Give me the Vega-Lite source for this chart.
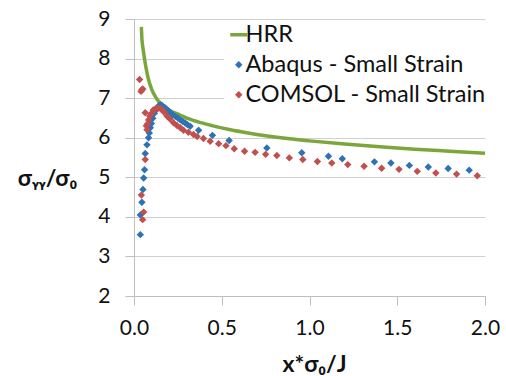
{
  "$schema": "https://vega.github.io/schema/vega-lite/v6.json",
  "width": 351,
  "height": 277,
  "autosize": {"type": "none"},
  "padding": {"left": 134, "top": 19, "right": 21, "bottom": 80},
  "background": "white",
  "config": {
    "view": {"stroke": null},
    "font": "Lato",
    "axis": {
      "labelFont": "Lato",
      "titleFont": "Lato",
      "labelColor": "#111111",
      "titleColor": "#111111",
      "domainColor": "#BFBFBF",
      "tickColor": "#BFBFBF",
      "gridColor": "#D0D0D0",
      "domainWidth": 1,
      "tickWidth": 1,
      "gridWidth": 1
    }
  },
  "datasets": {
    "pts": [
      {"series": "HRR", "x": 0.042, "y": 8.8},
      {"series": "HRR", "x": 0.045, "y": 8.5},
      {"series": "HRR", "x": 0.05, "y": 8.3},
      {"series": "HRR", "x": 0.055, "y": 8.14},
      {"series": "HRR", "x": 0.064, "y": 7.88},
      {"series": "HRR", "x": 0.074, "y": 7.64},
      {"series": "HRR", "x": 0.087, "y": 7.4},
      {"series": "HRR", "x": 0.102, "y": 7.21},
      {"series": "HRR", "x": 0.12, "y": 7.05},
      {"series": "HRR", "x": 0.14, "y": 6.92},
      {"series": "HRR", "x": 0.17, "y": 6.8},
      {"series": "HRR", "x": 0.207, "y": 6.68},
      {"series": "HRR", "x": 0.26, "y": 6.58},
      {"series": "HRR", "x": 0.31, "y": 6.48},
      {"series": "HRR", "x": 0.38, "y": 6.38},
      {"series": "HRR", "x": 0.45, "y": 6.3},
      {"series": "HRR", "x": 0.55, "y": 6.2},
      {"series": "HRR", "x": 0.65, "y": 6.12},
      {"series": "HRR", "x": 0.75, "y": 6.05},
      {"series": "HRR", "x": 0.85, "y": 5.99},
      {"series": "HRR", "x": 1.0, "y": 5.92},
      {"series": "HRR", "x": 1.2, "y": 5.84},
      {"series": "HRR", "x": 1.4, "y": 5.77},
      {"series": "HRR", "x": 1.6, "y": 5.71},
      {"series": "HRR", "x": 1.8, "y": 5.66},
      {"series": "HRR", "x": 2.0, "y": 5.61},

      {"series": "Abaqus - Small Strain", "x": 0.036, "y": 3.55},
      {"series": "Abaqus - Small Strain", "x": 0.036, "y": 4.05},
      {"series": "Abaqus - Small Strain", "x": 0.045, "y": 4.37},
      {"series": "Abaqus - Small Strain", "x": 0.051, "y": 4.69},
      {"series": "Abaqus - Small Strain", "x": 0.055, "y": 4.98},
      {"series": "Abaqus - Small Strain", "x": 0.06, "y": 5.19},
      {"series": "Abaqus - Small Strain", "x": 0.064, "y": 5.6},
      {"series": "Abaqus - Small Strain", "x": 0.074, "y": 5.82},
      {"series": "Abaqus - Small Strain", "x": 0.083, "y": 6.0},
      {"series": "Abaqus - Small Strain", "x": 0.087, "y": 6.12},
      {"series": "Abaqus - Small Strain", "x": 0.093, "y": 6.25},
      {"series": "Abaqus - Small Strain", "x": 0.099, "y": 6.36},
      {"series": "Abaqus - Small Strain", "x": 0.107, "y": 6.49},
      {"series": "Abaqus - Small Strain", "x": 0.116, "y": 6.62},
      {"series": "Abaqus - Small Strain", "x": 0.131, "y": 6.73},
      {"series": "Abaqus - Small Strain", "x": 0.14, "y": 6.8},
      {"series": "Abaqus - Small Strain", "x": 0.15, "y": 6.83},
      {"series": "Abaqus - Small Strain", "x": 0.158, "y": 6.82},
      {"series": "Abaqus - Small Strain", "x": 0.168, "y": 6.78},
      {"series": "Abaqus - Small Strain", "x": 0.178, "y": 6.75},
      {"series": "Abaqus - Small Strain", "x": 0.188, "y": 6.71},
      {"series": "Abaqus - Small Strain", "x": 0.197, "y": 6.67},
      {"series": "Abaqus - Small Strain", "x": 0.207, "y": 6.63},
      {"series": "Abaqus - Small Strain", "x": 0.22, "y": 6.58},
      {"series": "Abaqus - Small Strain", "x": 0.235, "y": 6.54},
      {"series": "Abaqus - Small Strain", "x": 0.25, "y": 6.5},
      {"series": "Abaqus - Small Strain", "x": 0.264, "y": 6.45},
      {"series": "Abaqus - Small Strain", "x": 0.278, "y": 6.41},
      {"series": "Abaqus - Small Strain", "x": 0.292, "y": 6.37},
      {"series": "Abaqus - Small Strain", "x": 0.305, "y": 6.33},
      {"series": "Abaqus - Small Strain", "x": 0.32, "y": 6.29},
      {"series": "Abaqus - Small Strain", "x": 0.368, "y": 6.19},
      {"series": "Abaqus - Small Strain", "x": 0.447, "y": 6.06},
      {"series": "Abaqus - Small Strain", "x": 0.542, "y": 5.93},
      {"series": "Abaqus - Small Strain", "x": 0.757, "y": 5.74},
      {"series": "Abaqus - Small Strain", "x": 0.956, "y": 5.62},
      {"series": "Abaqus - Small Strain", "x": 1.108, "y": 5.53},
      {"series": "Abaqus - Small Strain", "x": 1.187, "y": 5.47},
      {"series": "Abaqus - Small Strain", "x": 1.37, "y": 5.39},
      {"series": "Abaqus - Small Strain", "x": 1.464, "y": 5.36},
      {"series": "Abaqus - Small Strain", "x": 1.569, "y": 5.3},
      {"series": "Abaqus - Small Strain", "x": 1.677, "y": 5.26},
      {"series": "Abaqus - Small Strain", "x": 1.79, "y": 5.22},
      {"series": "Abaqus - Small Strain", "x": 1.91, "y": 5.18},

      {"series": "COMSOL - Small Strain", "x": 0.032, "y": 7.47},
      {"series": "COMSOL - Small Strain", "x": 0.04, "y": 7.17},
      {"series": "COMSOL - Small Strain", "x": 0.045, "y": 7.21},
      {"series": "COMSOL - Small Strain", "x": 0.05, "y": 7.23},
      {"series": "COMSOL - Small Strain", "x": 0.042, "y": 4.55},
      {"series": "COMSOL - Small Strain", "x": 0.049, "y": 3.93},
      {"series": "COMSOL - Small Strain", "x": 0.055, "y": 4.12},
      {"series": "COMSOL - Small Strain", "x": 0.064, "y": 5.45},
      {"series": "COMSOL - Small Strain", "x": 0.064, "y": 6.63},
      {"series": "COMSOL - Small Strain", "x": 0.07, "y": 6.3},
      {"series": "COMSOL - Small Strain", "x": 0.074, "y": 6.2},
      {"series": "COMSOL - Small Strain", "x": 0.078, "y": 6.35},
      {"series": "COMSOL - Small Strain", "x": 0.083, "y": 6.45},
      {"series": "COMSOL - Small Strain", "x": 0.09, "y": 6.55},
      {"series": "COMSOL - Small Strain", "x": 0.1, "y": 6.62},
      {"series": "COMSOL - Small Strain", "x": 0.11, "y": 6.7},
      {"series": "COMSOL - Small Strain", "x": 0.12, "y": 6.72},
      {"series": "COMSOL - Small Strain", "x": 0.13, "y": 6.74},
      {"series": "COMSOL - Small Strain", "x": 0.14, "y": 6.75},
      {"series": "COMSOL - Small Strain", "x": 0.15, "y": 6.74},
      {"series": "COMSOL - Small Strain", "x": 0.16, "y": 6.71},
      {"series": "COMSOL - Small Strain", "x": 0.17, "y": 6.65},
      {"series": "COMSOL - Small Strain", "x": 0.188, "y": 6.55},
      {"series": "COMSOL - Small Strain", "x": 0.205, "y": 6.47},
      {"series": "COMSOL - Small Strain", "x": 0.225, "y": 6.38},
      {"series": "COMSOL - Small Strain", "x": 0.245, "y": 6.31},
      {"series": "COMSOL - Small Strain", "x": 0.264, "y": 6.25},
      {"series": "COMSOL - Small Strain", "x": 0.282, "y": 6.19},
      {"series": "COMSOL - Small Strain", "x": 0.31, "y": 6.14},
      {"series": "COMSOL - Small Strain", "x": 0.339, "y": 6.08},
      {"series": "COMSOL - Small Strain", "x": 0.36, "y": 6.03},
      {"series": "COMSOL - Small Strain", "x": 0.396, "y": 5.98},
      {"series": "COMSOL - Small Strain", "x": 0.434, "y": 5.91},
      {"series": "COMSOL - Small Strain", "x": 0.482, "y": 5.85},
      {"series": "COMSOL - Small Strain", "x": 0.524, "y": 5.8},
      {"series": "COMSOL - Small Strain", "x": 0.571, "y": 5.72},
      {"series": "COMSOL - Small Strain", "x": 0.63, "y": 5.66},
      {"series": "COMSOL - Small Strain", "x": 0.69, "y": 5.63},
      {"series": "COMSOL - Small Strain", "x": 0.75, "y": 5.58},
      {"series": "COMSOL - Small Strain", "x": 0.814, "y": 5.55},
      {"series": "COMSOL - Small Strain", "x": 0.885, "y": 5.49},
      {"series": "COMSOL - Small Strain", "x": 0.962, "y": 5.45},
      {"series": "COMSOL - Small Strain", "x": 1.045, "y": 5.4},
      {"series": "COMSOL - Small Strain", "x": 1.127, "y": 5.36},
      {"series": "COMSOL - Small Strain", "x": 1.218, "y": 5.32},
      {"series": "COMSOL - Small Strain", "x": 1.311, "y": 5.28},
      {"series": "COMSOL - Small Strain", "x": 1.411, "y": 5.23},
      {"series": "COMSOL - Small Strain", "x": 1.51, "y": 5.2},
      {"series": "COMSOL - Small Strain", "x": 1.614, "y": 5.15},
      {"series": "COMSOL - Small Strain", "x": 1.72, "y": 5.11},
      {"series": "COMSOL - Small Strain", "x": 1.838, "y": 5.08},
      {"series": "COMSOL - Small Strain", "x": 1.956, "y": 5.04}
    ]
  },
  "data": {"name": "pts"},
  "encoding": {
    "x": {
      "field": "x",
      "type": "quantitative",
      "scale": {"domain": [0, 2], "nice": false, "zero": false},
      "axis": {
        "title": "x*σ₀/J",
        "values": [0, 0.5, 1, 1.5, 2],
        "format": ".1f",
        "grid": false,
        "tickSize": 9,
        "labelFontSize": 21,
        "labelPadding": 12,
        "labelFlush": false,
        "titleFontSize": 23,
        "titleFontWeight": "bold",
        "titleX": 180,
        "titleY": 68,
        "titleBaseline": "middle",
        "titleAlign": "center"
      }
    },
    "y": {
      "field": "y",
      "type": "quantitative",
      "scale": {"domain": [2, 9], "nice": false, "zero": false},
      "axis": {
        "title": "σᵧᵧ/σ₀",
        "values": [2, 3, 4, 5, 6, 7, 8, 9],
        "tickSize": 9,
        "labelFontSize": 21,
        "labelPadding": 15,
        "labelFlush": false,
        "titleFontSize": 23,
        "titleFontWeight": "bold",
        "titleAngle": 0,
        "titleX": -87,
        "titleY": 159,
        "titleAlign": "center",
        "titleBaseline": "middle"
      }
    },
    "color": {
      "field": "series",
      "type": "nominal",
      "scale": {
        "domain": ["HRR", "Abaqus - Small Strain", "COMSOL - Small Strain"],
        "range": ["#7AA63C", "#2E72B6", "#C0504D"]
      },
      "legend": {
        "title": null,
        "orient": "none",
        "legendX": 90,
        "legendY": 1,
        "padding": 3,
        "fillColor": "white",
        "labelFontSize": 23.5,
        "labelFont": "Lato",
        "labelColor": "#111111",
        "labelLimit": 0,
        "symbolSize": 289,
        "labelOffset": -5,
        "rowPadding": 5,
        "encode": {
          "symbols": {
            "update": {
              "shape": {"signal": "datum.value === 'HRR' ? 'stroke' : 'diamond'"},
              "size": {"signal": "datum.value === 'HRR' ? 289 : 55"},
              "stroke": {"scale": "color", "field": "value"},
              "fill": {"scale": "color", "field": "value"},
              "strokeWidth": {"signal": "datum.value === 'HRR' ? 3.5 : 0"},
              "opacity": {"value": 1}
            }
          }
        }
      }
    }
  },
  "layer": [
    {
      "transform": [{"filter": "datum.series === 'HRR'"}],
      "mark": {"type": "line", "strokeWidth": 3.5, "interpolate": "monotone"}
    },
    {
      "transform": [{"filter": "datum.series === 'Abaqus - Small Strain'"}],
      "mark": {"type": "point", "shape": "diamond", "filled": true, "size": 55, "opacity": 1}
    },
    {
      "transform": [{"filter": "datum.series === 'COMSOL - Small Strain'"}],
      "mark": {"type": "point", "shape": "diamond", "filled": true, "size": 55, "opacity": 1}
    }
  ]
}
